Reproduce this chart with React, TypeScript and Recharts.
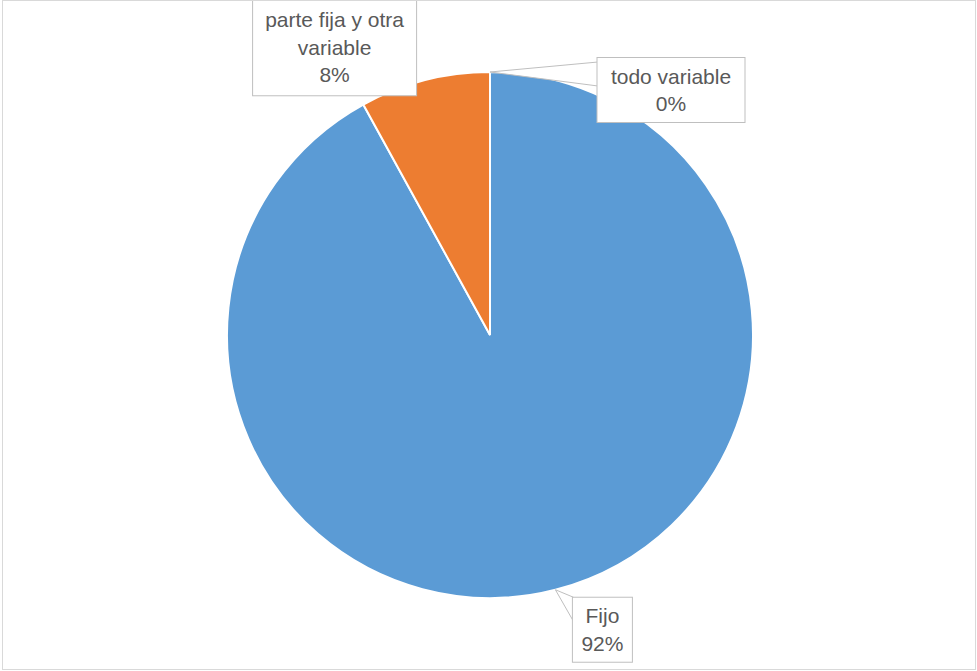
import { PieChart, Pie, Cell } from 'recharts'

const names = ['Fijo', 'parte fija y otra variable', 'todo variable']
const values = [92, 8, 0]
const colors = ['#5B9BD5', '#ED7D31', '#A5A5A5']
const labelLines = [['Fijo'], ['parte fija y otra', 'variable'], ['todo variable']]

const data = names.map((name, i) => ({ name, value: values[i] }))

// callout box placement relative to the slice's outer-edge midpoint
const callouts: Record<string, { dx: number; dy: number; w: number; h: number }> = {
  Fijo: { dx: 47, dy: 40, w: 60, h: 65 },
  'parte fija y otra variable': { dx: -90, dy: -33, w: 164, h: 97 },
  'todo variable': { dx: 181, dy: 18, w: 148, h: 65 },
}

const RAD = Math.PI / 180
const FONT = '"Liberation Sans", Arial, sans-serif'

function renderCallout(props: any) {
  const { cx, cy, midAngle, outerRadius, percent, index, name } = props
  const ax = cx + outerRadius * Math.cos(-midAngle * RAD)
  const ay = cy + outerRadius * Math.sin(-midAngle * RAD)
  const c = callouts[name]
  const bx = ax + c.dx - c.w / 2
  const by = ay + c.dy - c.h / 2
  const lines = [...labelLines[index], `${Math.round(percent * 100)}%`]
  const lh = 27.5
  const top = ay + c.dy - ((lines.length - 1) * lh) / 2
  let wedge = null
  if (bx > ax + 4) {
    const y1 = Math.max(by, ay - 10)
    const y2 = Math.min(by + c.h, y1 + 24)
    wedge = (
      <polygon
        points={`${ax},${ay} ${bx + 1},${y1} ${bx + 1},${y2}`}
        fill="#FFFFFF"
        stroke="#BFBFBF"
        strokeWidth={1}
      />
    )
  }
  return (
    <g key={`callout-${index}`}>
      {wedge}
      <rect x={bx} y={by} width={c.w} height={c.h} fill="#FFFFFF" stroke="#BFBFBF" strokeWidth={1} />
      {lines.map((t, i) => (
        <text
          key={i}
          x={ax + c.dx}
          y={top + i * lh}
          textAnchor="middle"
          dominantBaseline="central"
          fill="#595959"
          fontSize={21}
          fontFamily={FONT}
        >
          {t}
        </text>
      ))}
    </g>
  )
}

export default function App() {
  return (
    <div style={{ position: 'absolute', left: 0, top: 0, width: 977, height: 671, background: '#FFFFFF' }}>
      <PieChart width={977} height={671} margin={{ top: 0, right: 0, bottom: 0, left: 0 }}>
        <Pie
          data={data}
          dataKey="value"
          nameKey="name"
          cx={490}
          cy={335}
          outerRadius={263}
          startAngle={90}
          endAngle={-270}
          stroke="#FFFFFF"
          strokeWidth={2}
          label={renderCallout}
          labelLine={false}
          isAnimationActive={false}
        >
          {data.map((d, i) => (
            <Cell key={d.name} fill={colors[i]} />
          ))}
        </Pie>
      </PieChart>
      <div
        style={{
          position: 'absolute',
          left: 2,
          top: 0,
          width: 974,
          height: 670,
          border: '1px solid #D9D9D9',
          boxSizing: 'border-box',
          pointerEvents: 'none',
        }}
      />
    </div>
  )
}
